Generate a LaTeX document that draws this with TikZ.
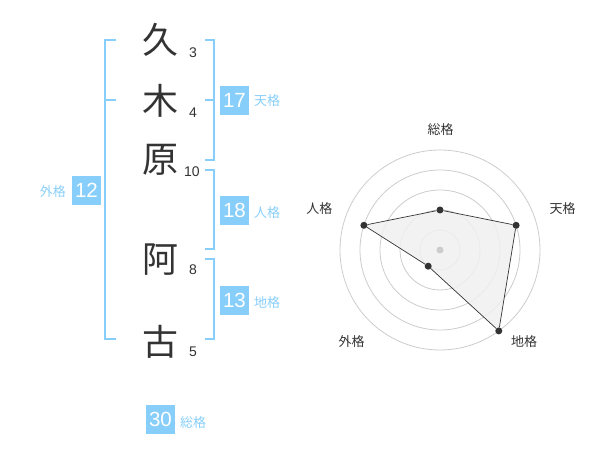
\documentclass[tikz,border=0pt]{standalone}
\usepackage{fontspec}
\setmainfont{Liberation Sans}
\newfontfamily\jp{Noto Sans CJK JP}
\definecolor{sky}{RGB}{135,206,250}
\definecolor{ink}{RGB}{51,51,51}
\definecolor{ring}{RGB}{204,204,204}
\definecolor{polyfill}{RGB}{240,240,240}
\tikzset{
  kanji/.style={font=\jp\fontsize{36}{36}\selectfont, text=ink, inner sep=0pt},
  stroke/.style={font=\fontsize{14}{14}\selectfont, text=ink, inner sep=0pt},
  numbox/.style={fill=sky, text=white, minimum width=29pt, minimum height=29pt, inner sep=0pt, font=\fontsize{20.5}{20.5}\selectfont},
  kaku/.style={font=\jp\fontsize{13}{13}\selectfont, text=sky, inner sep=0pt},
  bracket/.style={draw=sky, line width=2pt},
  axislabel/.style={font=\jp\fontsize{13}{13}\selectfont, text=ink, inner sep=0pt},
  ringline/.style={draw=ring, line width=0.8pt},
  pt/.style={circle, fill=ink, minimum size=7pt, inner sep=0pt},
  edge/.style={draw=ink, line width=0.7pt}
}
\begin{document}
\begin{tikzpicture}[x=1pt,y=-1pt]
\useasboundingbox (0,0) rectangle (600,470);
% kanji
\node[kanji] (k1) at (160,40) {久};
\node[kanji] (k2) at (160,101) {木};
\node[kanji] (k3) at (160,160) {原};
\node[kanji] (k4) at (160,260) {阿};
\node[kanji] (k5) at (160,342) {古};
% stroke counts
\node[stroke] (s1) at (193,53) {3};
\node[stroke] (s2) at (193,113) {4};
\node[stroke] (s3) at (192,172) {10};
\node[stroke] (s4) at (193,270) {8};
\node[stroke] (s5) at (193,352) {5};
% brackets
\draw[bracket] (116,40) -- (105,40) -- (105,339) -- (116,339);
\draw[bracket] (105,100) -- (116,100);
\draw[bracket] (205,40) -- (214,40) -- (214,160) -- (205,160);
\draw[bracket] (205,100) -- (214,100);
\draw[bracket] (205,170) -- (214,170) -- (214,249) -- (205,249);
\draw[bracket] (205,259) -- (214,259) -- (214,339) -- (205,339);
% boxes
\node[numbox] (b17) at (234.5,100.5) {17};
\node[kaku, anchor=west] (l17) at (254,101) {天格};
\node[numbox] (b18) at (234.5,210.5) {18};
\node[kaku, anchor=west] (l18) at (254,213) {人格};
\node[numbox] (b13) at (234.5,300.5) {13};
\node[kaku, anchor=west] (l13) at (254,303) {地格};
\node[numbox] (b12) at (86.5,190.5) {12};
\node[kaku, anchor=east] (l12) at (66,192) {外格};
\node[numbox] (b30) at (160.5,419.5) {30};
\node[kaku, anchor=west] (l30) at (180,423) {総格};
% radar
\coordinate (c) at (440,250);
\foreach \r in {20,40,60,80,100} \draw[ringline] (c) circle (\r pt);
\coordinate (p1) at (440,210);
\coordinate (p2) at (516.1,225.3);
\coordinate (p3) at (498.8,330.9);
\coordinate (p4) at (428.2,266.2);
\coordinate (p5) at (363.9,225.3);
\fill[polyfill, opacity=0.85] (p1) -- (p2) -- (p3) -- (p4) -- (p5) -- cycle;
\fill[ring] (c) circle (3.5pt);
\node[pt] (q1) at (p1) {};
\node[pt] (q2) at (p2) {};
\node[pt] (q3) at (p3) {};
\node[pt] (q4) at (p4) {};
\node[pt] (q5) at (p5) {};
\draw[edge] (q1) -- (q2);
\draw[edge] (q2) -- (q3);
\draw[edge] (q3) -- (q4);
\draw[edge] (q4) -- (q5);
\draw[edge] (q5) -- (q1);
\node[axislabel] (a1) at (440.7,130) {総格};
\node[axislabel] (a2) at (562.7,208.3) {天格};
\node[axislabel] (a3) at (524,341.7) {地格};
\node[axislabel] (a4) at (351.7,341.7) {外格};
\node[axislabel] (a5) at (319.3,208.3) {人格};
\end{tikzpicture}
\end{document}
